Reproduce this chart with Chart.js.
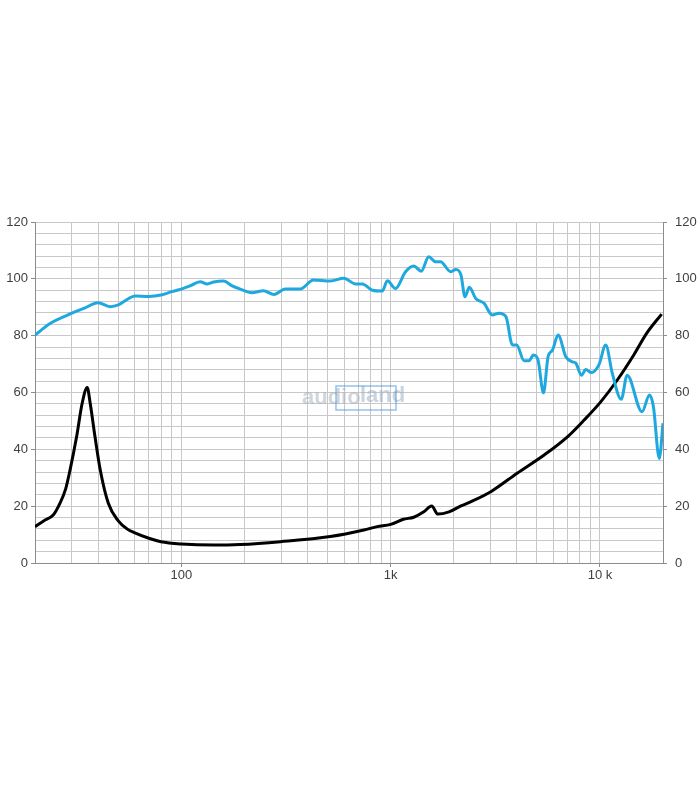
<!DOCTYPE html>
<html>
<head>
<meta charset="utf-8">
<script src="https://cdn.jsdelivr.net/npm/chart.js@4.4.1/dist/chart.umd.min.js"></script>
<style>
  html, body { margin: 0; padding: 0; background: #fff; }
  #wrap { width: 700px; height: 800px; }
</style>
</head>
<body>
<div id="wrap"><canvas id="chart" width="700" height="800"></canvas></div>
<script>
// SPL (blue)
const splFreq = [20, 23.6, 30, 34.7, 40, 45.7, 50, 57, 60, 70, 80, 90, 100, 110, 123, 133, 143, 159, 175, 191,
  217, 247, 277, 314, 370, 428, 515, 598, 680, 733, 818, 912, 964, 1054, 1178, 1290, 1400, 1520, 1637, 1730,
  1938, 2050, 2168, 2265, 2375, 2550, 2793, 3056, 3290, 3553, 3818, 4000, 4338, 4585, 4810, 5060, 5372, 5650,
  5928, 6310, 6866, 7380, 7650, 8162, 8554, 9100, 9880, 10654, 11452, 12632, 13486, 15880, 17240, 18000, 19200, 20000];
const splValues = [80.2, 84.3, 87.9, 89.8, 91.6, 90.2, 90.8, 93.4, 94, 93.8, 94.3, 95.5, 96.4, 97.5, 99, 98.2, 98.9, 99.2, 97.5, 96.4,
  95.1, 95.8, 94.5, 96.4, 96.4, 99.6, 99.2, 100.2, 98.2, 98.2, 96, 95.7, 99.3, 96.6, 102.5, 104.5, 102.7, 107.8, 106, 106,
  102.5, 103.3, 101.3, 93.7, 97, 93.1, 91.4, 87.3, 87.9, 86.7, 76.7, 76.7, 71.2, 71.2, 73.2, 71.4, 59.9, 72.6,
  74.9, 80.2, 72.6, 70.8, 70.4, 66.1, 68.1, 67, 69.7, 76.7, 66.7, 57.6, 66.1, 53.2, 59.1, 55, 36.8, 49.2];

// impedance (black)
const impFreq = [20, 22, 24.5, 26.3, 28, 29.4, 31.6, 33.6, 35.5, 36.7, 38.7, 41, 44.8, 50, 55, 60, 70, 80, 100, 143,
  191, 298, 515, 745, 862, 1000, 1150, 1290, 1440, 1570, 1680, 1900, 2168, 2420, 3010, 4020, 5412, 6990, 8400,
  10104, 12100, 14500, 16700, 19700];
const impValues = [12.8, 14.8, 17, 21, 26, 32.7, 44.4, 56.2, 61.8, 56.2, 44.4, 32.7, 21, 14.8, 12, 10.6, 8.7, 7.5, 6.7, 6.3,
  6.5, 7.5, 9.3, 11.6, 12.8, 13.6, 15.4, 16.1, 18, 20.1, 17.2, 18, 20.1, 21.6, 25.1, 31.6, 38, 44.4, 50.3,
  56.8, 64.4, 73.2, 80.8, 87.6];

// axis ticks
const xGridTicks = [20, 30, 40, 50, 60, 70, 80, 90, 100, 200, 300, 400, 500, 600, 700, 800, 900,
  1000, 2000, 3000, 4000, 5000, 6000, 7000, 8000, 9000, 10000, 20000];
const xLabels = { 100: '100', 1000: '1k', 10000: '10 k' };
const yMin = 0, yMax = 120, yGridStep = 4, yLabelStep = 20;

const toPoints = (xs, ys) => xs.map((x, i) => ({ x, y: ys[i] }));

const gridColor = '#c8c8c8';
const axisColor = '#8c8c8c';
const textColor = '#404040';
const font = { family: 'Liberation Sans, Arial, sans-serif', size: 13 };

function yAxis(position) {
  return {
    type: 'linear',
    position,
    min: yMin,
    max: yMax,
    afterFit(scale) { scale.width = position === 'left' ? 35 : 37; },
    ticks: {
      stepSize: yGridStep,
      autoSkip: false,
      color: textColor,
      font,
      padding: position === 'left' ? 3 : 8,
      callback: (v) => (v % yLabelStep === 0 ? String(v) : ''),
    },
    grid: {
      drawOnChartArea: position === 'left',
      color: gridColor,
      lineWidth: 1,
      tickLength: 4,
      tickColor: (c) => (c.tick && c.tick.value % yLabelStep === 0 ? axisColor : 'rgba(0,0,0,0)'),
    },
    border: { display: true, color: axisColor, width: 1 },
  };
}

new Chart(document.getElementById('chart'), {
  type: 'line',
  data: {
    datasets: [
      {
        label: 'SPL',
        data: toPoints(splFreq, splValues),
        borderColor: '#1fa8df',
        borderWidth: 3,
        pointRadius: 0,
        cubicInterpolationMode: 'monotone',
        yAxisID: 'y',
      },
      {
        label: 'Impedance',
        data: toPoints(impFreq, impValues),
        borderColor: '#000000',
        borderWidth: 3,
        pointRadius: 0,
        cubicInterpolationMode: 'monotone',
        yAxisID: 'y',
      },
    ],
  },
  options: {
    responsive: false,
    animation: false,
    layout: { padding: { top: 222, left: 0, right: 0, bottom: 0 } },
    plugins: { legend: { display: false }, tooltip: { enabled: false } },
    scales: {
      x: {
        type: 'logarithmic',
        min: 20,
        max: 20000,
        afterBuildTicks(scale) { scale.ticks = xGridTicks.map((v) => ({ value: v })); },
        afterFit(scale) { scale.height = 237; },
        ticks: {
          autoSkip: false,
          maxRotation: 0,
          color: textColor,
          font,
          padding: 1,
          callback: (v) => xLabels[v] || '',
        },
        grid: {
          color: gridColor,
          lineWidth: 1,
          tickLength: 4,
          tickColor: (c) => (c.tick && xLabels[c.tick.value] ? axisColor : 'rgba(0,0,0,0)'),
        },
        border: { display: true, color: axisColor, width: 1 },
      },
      y: yAxis('left'),
      y2: yAxis('right'),
    },
  },
  plugins: [
    {
      id: 'watermark',
      beforeDatasetsDraw(chart) {
        const { ctx } = chart;
        ctx.save();
        ctx.globalAlpha = 0.55;
        ctx.font = 'bold 22px Liberation Sans, Arial, sans-serif';
        ctx.textBaseline = 'middle';
        ctx.fillStyle = '#a9b4bc';
        ctx.fillText('audio', 302, 398);
        ctx.fillStyle = '#9fb0c4';
        ctx.fillText('land', 360, 396);
        ctx.strokeStyle = '#3d8fe0';
        ctx.lineWidth = 1.5;
        ctx.strokeRect(336, 386, 60, 24);
        ctx.restore();
      },
    },
  ],
});
</script>
</body>
</html>
